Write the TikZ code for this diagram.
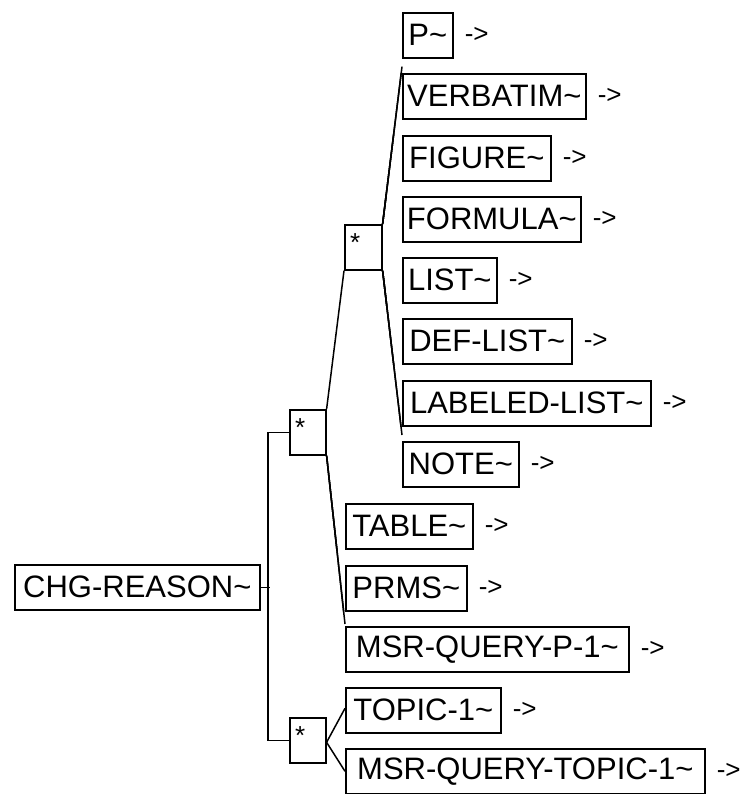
\documentclass[tikz,border=0pt]{standalone}
\usepackage{fontspec}
\setmainfont{Liberation Sans}
\usetikzlibrary{calc}
\begin{document}
\begin{tikzpicture}[x=1pt,y=-1pt,
  box/.style={draw, line width=1.6pt, anchor=north west, minimum height=45pt, inner xsep=3pt, inner ysep=0pt, font=\fontsize{31}{31}\selectfont},
  starbox/.style={draw, line width=1.6pt, anchor=north west, minimum height=45pt, minimum width=36pt, inner sep=0pt},
  startext/.style={anchor=north west, inner sep=0pt, font=\fontsize{26}{26}\selectfont},
  arr/.style={anchor=west, inner sep=0pt, font=\fontsize{26}{26}\selectfont},
  conn/.style={line width=1.5pt}]
\fill[white] (0,0) rectangle (742,794);
\useasboundingbox (0,0) rectangle (742,794);

% boxes
\node[box, minimum width=50pt]  (p)    at (402,12)  {P\textasciitilde};
\node[box, minimum width=183pt] (verb) at (402,73)  {VERBATIM\textasciitilde};
\node[box, minimum width=148pt] (fig)  at (402,135) {FIGURE\textasciitilde};
\node[box, minimum width=178pt] (form) at (402,196) {FORMULA\textasciitilde};
\node[box, minimum width=94pt]  (list) at (402,257) {LIST\textasciitilde};
\node[box, minimum width=169pt] (defl) at (402,318) {DEF-LIST\textasciitilde};
\node[box, minimum width=248pt] (labl) at (402,380) {LABELED-LIST\textasciitilde};
\node[box, minimum width=116pt] (note) at (402,441) {NOTE\textasciitilde};
\node[box, minimum width=127pt] (tab)  at (345,503) {TABLE\textasciitilde};
\node[box, minimum width=245pt] (chg)  at (14,564)  {CHG-REASON\textasciitilde};
\node[box, minimum width=121pt] (prms) at (345,565) {PRMS\textasciitilde};
\node[box, minimum width=283pt] (msrp) at (345,626) {MSR-QUERY-P-1\textasciitilde};
\node[box, minimum width=155pt] (topic) at (345,687) {TOPIC-1\textasciitilde};
\node[box, minimum width=359pt] (msrt) at (345,748) {MSR-QUERY-TOPIC-1\textasciitilde};

% star boxes
\node[starbox, minimum width=37pt] (s1) at (344,224) {};
\node[startext] (s1t) at ([shift={(6,9)}]s1.north west) {*};
\node[starbox] (s2) at (289,409) {};
\node[startext] (s2t) at ([shift={(6,9)}]s2.north west) {*};
\node[starbox] (s3) at (289,717) {};
\node[startext] (s3t) at ([shift={(6,9)}]s3.north west) {*};

% arrow labels
\foreach \n in {p,verb,fig,form,list,defl,labl,note,tab,prms,msrp,topic,msrt}
  \node[arr] (\n-a) at ([xshift=11pt]\n.east) {->};

% end points of the outermost branches
\coordinate (pend) at ([yshift=-8]p.south west);
\coordinate (nend) at ([yshift=6]note.north west);
\coordinate (mend) at ([yshift=2]msrp.north west);

% connectors
\draw[conn] (chg.east) -- ++(9,0);
\draw[conn] (s2.west) -- ++(-21,0) |- (s3.west);
\draw[conn] (s2.north east) -- (s1.south west);
\draw[conn] (s2.south east) -- (mend);
\foreach \n in {tab,prms}
  \draw[conn] (s2.south east) -- ($(s2.south east)!(\n.south west)!(mend)$);
\draw[conn] (s1.north east) -- (pend);
\foreach \n in {verb,fig,form}
  \draw[conn] (s1.north east) -- ($(s1.north east)!(\n.north west)!(pend)$);
\draw[conn] (s1.south east) -- (nend);
\foreach \n in {list,defl,labl}
  \draw[conn] (s1.south east) -- ($(s1.south east)!(\n.south west)!(nend)$);
\draw[conn] ([yshift=-2]s3.east) -- ([yshift=2]topic.west);
\draw[conn] ([yshift=-2]s3.east) -- (msrt.west);
\end{tikzpicture}
\end{document}
